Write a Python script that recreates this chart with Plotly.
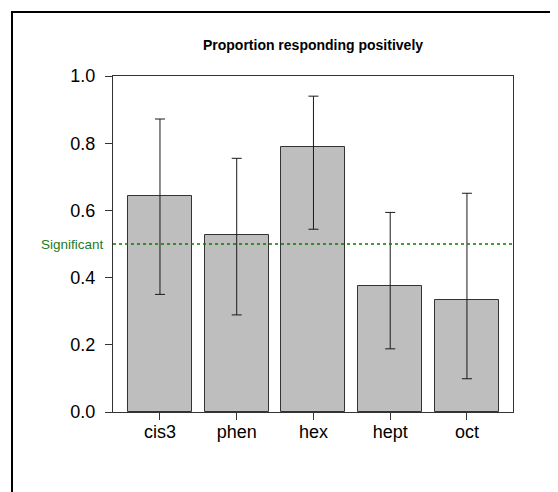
import plotly.graph_objects as go

categories = ["cis3", "phen", "hex", "hept", "oct"]
proportions = [0.643, 0.527, 0.789, 0.375, 0.334]
ci_upper = [0.872, 0.755, 0.940, 0.594, 0.651]
ci_lower = [0.350, 0.289, 0.544, 0.188, 0.099]
significance_level = 0.5
y_ticks = [0.0, 0.2, 0.4, 0.6, 0.8, 1.0]
y_tick_labels = ["0.0", "0.2", "0.4", "0.6", "0.8", "1.0"]

err_plus = [u - p for u, p in zip(ci_upper, proportions)]
err_minus = [p - l for p, l in zip(proportions, ci_lower)]

# page has an 8px body margin; figure sized to fit the 558x492 window
W, H = 550, 484
L, R, T, B = 105, 45, 68, 80
PW, PH = W - L - R, H - T - B  # 400 x 336
PLOT_BOTTOM = T + PH

fig = go.Figure()
fig.add_trace(go.Bar(
    x=list(range(len(categories))),
    y=proportions,
    width=0.834,
    marker=dict(color="#bebebe", line=dict(color="#333333", width=1)),
    error_y=dict(type="data", symmetric=False, array=err_plus, arrayminus=err_minus,
                 color="#1a1a1a", thickness=1, width=5),
    showlegend=False,
    hoverinfo="skip",
))

# significance line
fig.add_shape(type="line", xref="paper", yref="y", x0=0, x1=1,
              y0=significance_level, y1=significance_level,
              line=dict(color="#008000", width=1.5, dash="dot"), layer="above")
fig.add_annotation(xref="paper", yref="y", x=-7 / PW, y=significance_level,
                   text="Significant", showarrow=False, xanchor="right", yanchor="middle",
                   font=dict(size=13.5, color="#1e7a1e"))

# outer border (extends past right and bottom)
fig.add_shape(type="rect", xref="paper", yref="paper",
              x0=(4 - L) / PW, x1=(570 - L) / PW,
              y0=(PLOT_BOTTOM - 500) / PH, y1=(PLOT_BOTTOM - 4) / PH,
              line=dict(color="black", width=2), fillcolor="rgba(0,0,0,0)", layer="above")

fig.update_layout(
    width=W, height=H,
    margin=dict(l=L, r=R, t=T, b=B, pad=0),
    paper_bgcolor="white", plot_bgcolor="white",
    font=dict(family="Liberation Sans, Arial, sans-serif", color="black"),
    title=dict(text="<b>Proportion responding positively</b>", x=0.5, xref="paper",
               xanchor="center", y=1 - 37 / H, yanchor="middle",
               font=dict(size=14, color="black")),
    bargap=0,
)
fig.update_xaxes(
    range=[-0.612, 4.6], tickvals=list(range(len(categories))), ticktext=categories,
    ticks="outside", ticklen=7, tickcolor="#333333", tickwidth=1,
    showline=True, linecolor="#333333", linewidth=1, mirror=True,
    showgrid=False, zeroline=False, tickfont=dict(size=18, color="black"),
    ticklabelstandoff=-4,
)
fig.update_yaxes(
    range=[0, 1.0], tickvals=y_ticks, ticktext=y_tick_labels,
    ticks="outside", ticklen=7, tickcolor="#333333", tickwidth=1,
    showline=True, linecolor="#333333", linewidth=1, mirror=True,
    showgrid=False, zeroline=False, tickfont=dict(size=18, color="black"),
    ticklabelstandoff=6,
)

fig.write_html("out.html")
